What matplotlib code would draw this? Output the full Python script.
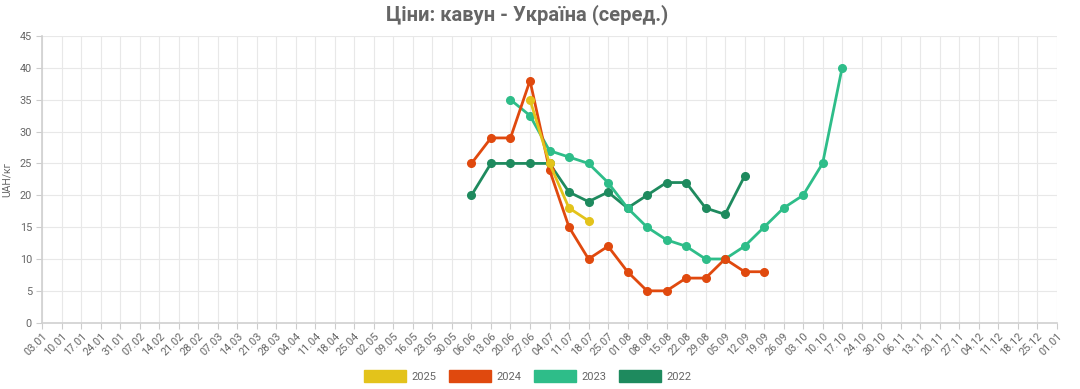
import matplotlib
matplotlib.use("Agg")
import matplotlib.pyplot as plt
from matplotlib.patches import Patch

plt.rcParams['font.family'] = ['Roboto', 'DejaVu Sans']

weeks = ["03.01", "10.01", "17.01", "24.01", "31.01", "07.02", "14.02", "21.02", "28.02",
         "07.03", "14.03", "21.03", "28.03", "04.04", "11.04", "18.04", "25.04", "02.05",
         "09.05", "16.05", "23.05", "30.05", "06.06", "13.06", "20.06", "27.06", "04.07",
         "11.07", "18.07", "25.07", "01.08", "08.08", "15.08", "22.08", "29.08", "05.09",
         "12.09", "19.09", "26.09", "03.10", "10.10", "17.10", "24.10", "30.10", "06.11",
         "13.11", "20.11", "27.11", "04.12", "11.12", "18.12", "25.12", "01.01"]

weeks_2025 = ["27.06", "04.07", "11.07", "18.07"]
prices_2025 = [35, 25, 18, 16]

weeks_2024 = ["06.06", "13.06", "20.06", "27.06", "04.07", "11.07", "18.07", "25.07",
              "01.08", "08.08", "15.08", "22.08", "29.08", "05.09", "12.09", "19.09"]
prices_2024 = [25, 29, 29, 38, 24, 15, 10, 12, 8, 5, 5, 7, 7, 10, 8, 8]

weeks_2023 = ["20.06", "27.06", "04.07", "11.07", "18.07", "25.07", "01.08", "08.08",
              "15.08", "22.08", "29.08", "05.09", "12.09", "19.09", "26.09", "03.10",
              "10.10", "17.10"]
prices_2023 = [35, 32.5, 27, 26, 25, 22, 18, 15, 13, 12, 10, 10, 12, 15, 18, 20, 25, 40]

weeks_2022 = ["06.06", "13.06", "20.06", "27.06", "04.07", "11.07", "18.07", "25.07",
              "01.08", "08.08", "15.08", "22.08", "29.08", "05.09", "12.09"]
prices_2022 = [20, 25, 25, 25, 25, 20.5, 19, 20.5, 18, 20, 22, 22, 18, 17, 23]

series = [
    ("2025", weeks_2025, prices_2025, "#E3C31B"),
    ("2024", weeks_2024, prices_2024, "#E0490E"),
    ("2023", weeks_2023, prices_2023, "#2EBD89"),
    ("2022", weeks_2022, prices_2022, "#1E8A5E"),
]

W, H = 1080, 389
fig = plt.figure(figsize=(W / 100, H / 100), dpi=100)
left, right, top, bottom = 42.3, 1056.7, 36.0, 322.7
ax = fig.add_axes([left / W, 1 - bottom / H, (right - left) / W, (bottom - top) / H])

pos = {w: i for i, w in enumerate(weeks)}
n = len(series)
for k, (name, wk, vals, col) in enumerate(series):
    xs = [pos[w] for w in wk]
    ax.plot(xs, vals, color=col, lw=2.0, marker='o', ms=5.5, mec=col, mfc=col,
            zorder=10 + (n - k), solid_capstyle='round', clip_on=False)

ax.set_xlim(0, len(weeks) - 1)
ax.set_ylim(0, 45)
ax.set_yticks(range(0, 46, 5))
ax.set_xticks(range(len(weeks)))
ax.set_xticklabels(weeks, rotation=45, ha='right', rotation_mode='anchor')
ax.tick_params(axis='both', colors='#cccccc', labelcolor='#666666', labelsize=7.8,
               length=4, width=0.8)
ax.tick_params(axis='x', pad=2)
ax.grid(True, color='#e8e8e8', lw=0.8)
ax.set_axisbelow(True)
for s in ['top', 'right']:
    ax.spines[s].set_visible(False)
for s in ['left', 'bottom']:
    ax.spines[s].set_color('#d0d0d0')
    ax.spines[s].set_linewidth(1.2)

ax.set_ylabel("UAH/кг", color='#666666', fontsize=7.5)
ax.yaxis.set_label_coords(-0.030, 0.5)

fig.text(527 / W, 1 - 15 / H, "Ціни: кавун - Україна (серед.)", ha='center', va='center',
         fontsize=14.5, fontweight='bold', color='#666666')

handles = [Patch(facecolor=c, edgecolor=c, label=nm) for nm, _, _, c in series]
leg = fig.legend(handles=handles, loc='center', bbox_to_anchor=(528 / W, 1 - 376 / H),
                 ncol=4, frameon=False, fontsize=8, handlelength=3.8, handleheight=1.25,
                 handletextpad=0.5, columnspacing=1.1, labelcolor='#666666')

fig.savefig("out.png", dpi=100)
